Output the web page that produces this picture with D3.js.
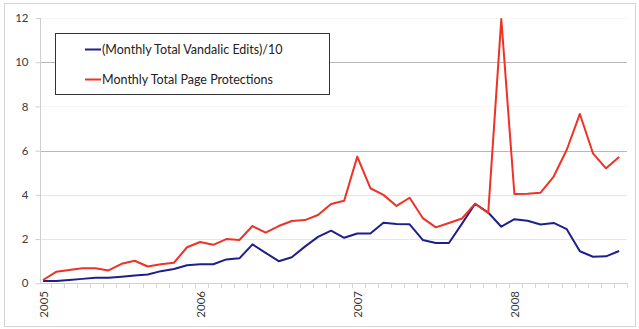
<!DOCTYPE html>
<html>
<head>
<meta charset="utf-8">
<script src="https://cdn.jsdelivr.net/npm/d3@7"></script>
<style>
  html, body { margin: 0; padding: 0; background: #fff; }
  svg { display: block; font-family: Lato, "Noto Sans", sans-serif; }
</style>
</head>
<body>
<svg id="chart" width="639" height="329"></svg>
<script>
// Monthly categories, Jan 2005 – Sep 2008
const months = [
  "2005-01","2005-02","2005-03","2005-04","2005-05","2005-06","2005-07","2005-08","2005-09","2005-10","2005-11","2005-12",
  "2006-01","2006-02","2006-03","2006-04","2006-05","2006-06","2006-07","2006-08","2006-09","2006-10","2006-11","2006-12",
  "2007-01","2007-02","2007-03","2007-04","2007-05","2007-06","2007-07","2007-08","2007-09","2007-10","2007-11","2007-12",
  "2008-01","2008-02","2008-03","2008-04","2008-05","2008-06","2008-07","2008-08","2008-09"
];

// (Monthly total vandalic edits) / 10
const vandalEdits = [
  0.10, 0.10, 0.15, 0.20, 0.25, 0.25, 0.30, 0.35, 0.40, 0.55, 0.65, 0.82,
  0.86, 0.86, 1.08, 1.13, 1.76, 1.38, 1.00, 1.18, 1.66, 2.10, 2.38, 2.06,
  2.25, 2.25, 2.74, 2.68, 2.67, 1.96, 1.82, 1.82, 2.70, 3.60, 3.20, 2.56,
  2.90, 2.83, 2.66, 2.73, 2.45, 1.45, 1.20, 1.22, 1.46
];

// Monthly total page protections
const pageProtections = [
  0.15, 0.52, 0.60, 0.68, 0.68, 0.58, 0.88, 1.02, 0.76, 0.86, 0.93, 1.63,
  1.87, 1.74, 2.00, 1.96, 2.59, 2.29, 2.59, 2.82, 2.86, 3.09, 3.59, 3.73,
  5.73, 4.30, 4.00, 3.50, 3.87, 2.95, 2.53, 2.73, 2.93, 3.60, 3.18, 11.95,
  4.04, 4.05, 4.10, 4.83, 6.04, 7.66, 5.88, 5.20, 5.71
];

const yTicks = [0, 2, 4, 6, 8, 10, 12];
const yearLabels = ["2005", "2006", "2007", "2008"];
const seriesNames = ["(Monthly Total Vandalic Edits)/10", "Monthly Total Page Protections"];
const seriesColors = ["#1f1f8c", "#ee3226"];

const svg = d3.select("#chart");

// outer frame
svg.append("rect")
  .attr("x", 4.5).attr("y", 3.5)
  .attr("width", 631).attr("height", 323)
  .attr("fill", "none").attr("stroke", "#d4d4d4");

const plot = { left: 40, right: 627, top: 18, bottom: 283.3 };

const x = d3.scaleLinear().domain([-0.23, 44.6]).range([plot.left, plot.right]);
const y = d3.scaleLinear().domain([0, 12]).range([plot.bottom, plot.top]);

// horizontal gridlines
const gridColor = v => (v === 6 || v === 10) ? "#b8b8b8" : (v === 2 || v === 4) ? "#e6e6e6" : "#f6f6f6";
svg.append("g").selectAll("line")
  .data(yTicks.filter(v => v > 0))
  .join("line")
  .attr("x1", plot.left).attr("x2", plot.right)
  .attr("y1", d => Math.round(y(d)) + 0.5).attr("y2", d => Math.round(y(d)) + 0.5)
  .attr("stroke", d => gridColor(d));

// y axis
const yAxis = d3.axisLeft(y).tickValues(yTicks).tickSize(5).tickPadding(7).tickFormat(d3.format("d"));
const gy = svg.append("g")
  .attr("transform", `translate(${plot.left + 0.5},0)`)
  .call(yAxis);
gy.select(".domain").attr("stroke", "#cfcfcf").attr("d", `M0,${plot.top}V${plot.bottom}`);
gy.selectAll(".tick line").attr("stroke", "#cfcfcf");
gy.selectAll(".tick text").attr("fill", "#3a3a3a").attr("font-size", 11.5)
  .attr("font-family", "Lato, 'Noto Sans', sans-serif");

// x axis: baseline with a tick at each month boundary
const gx = svg.append("g");
gx.append("line")
  .attr("x1", plot.left).attr("x2", plot.right)
  .attr("y1", Math.round(plot.bottom) + 0.5).attr("y2", Math.round(plot.bottom) + 0.5)
  .attr("stroke", "#cfcfcf");
gx.selectAll("line.mt")
  .data(months)
  .join("line")
  .attr("class", "mt")
  .attr("x1", (d, i) => Math.round(x(i + 0.6)) + 0.5)
  .attr("x2", (d, i) => Math.round(x(i + 0.6)) + 0.5)
  .attr("y1", Math.round(plot.bottom)).attr("y2", Math.round(plot.bottom) + 5)
  .attr("stroke", "#d6d6d6");

// year labels, rotated
gx.selectAll("text.yr")
  .data(yearLabels)
  .join("text")
  .attr("class", "yr")
  .attr("transform", d => {
    const i = months.indexOf(d + "-01");
    return `translate(${x(i) + 4.5},291) rotate(-90)`;
  })
  .attr("text-anchor", "end")
  .attr("fill", "#3a3a3a")
  .attr("font-size", 11.5)
  .text(d => d);

// series lines
const line = d3.line().x((d, i) => x(i)).y(d => y(d));
[vandalEdits, pageProtections].forEach((s, k) => {
  svg.append("path")
    .datum(s)
    .attr("d", line)
    .attr("fill", "none")
    .attr("stroke", seriesColors[k])
    .attr("stroke-width", 2)
    .attr("stroke-linejoin", "round");
});

// legend
const lg = svg.append("g");
lg.append("rect")
  .attr("x", 55.5).attr("y", 33.5)
  .attr("width", 274).attr("height", 61)
  .attr("fill", "#fff").attr("stroke", "#333").attr("stroke-width", 1);
seriesNames.forEach((name, k) => {
  const ly = 49.5 + k * 30;
  lg.append("line")
    .attr("x1", 85).attr("x2", 101).attr("y1", ly).attr("y2", ly)
    .attr("stroke", seriesColors[k]).attr("stroke-width", 2);
  lg.append("text")
    .attr("x", 102).attr("y", ly + 4.5)
    .attr("fill", "#222").attr("font-size", 12.5)
    .text(name);
});
</script>
</body>
</html>
